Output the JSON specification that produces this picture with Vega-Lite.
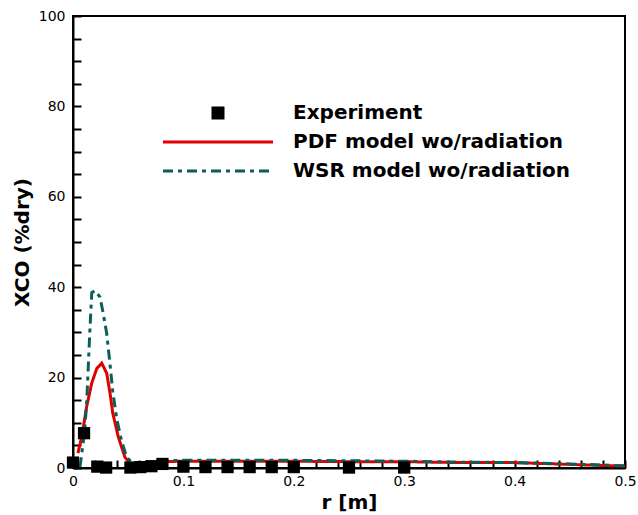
{
  "$schema": "https://vega.github.io/schema/vega-lite/v6.json",
  "width": 552,
  "height": 452,
  "autosize": {"type": "none"},
  "padding": {"left": 73, "top": 16, "right": 13, "bottom": 47},
  "background": "white",
  "datasets": {
    "curves": [
      {"r": 0.0045, "x": 3.3, "series": "PDF model wo/radiation"},
      {"r": 0.008, "x": 7.0, "series": "PDF model wo/radiation"},
      {"r": 0.0124, "x": 13.6, "series": "PDF model wo/radiation"},
      {"r": 0.017, "x": 18.8, "series": "PDF model wo/radiation"},
      {"r": 0.0215, "x": 22.0, "series": "PDF model wo/radiation"},
      {"r": 0.026, "x": 23.2, "series": "PDF model wo/radiation"},
      {"r": 0.0305, "x": 21.0, "series": "PDF model wo/radiation"},
      {"r": 0.0335, "x": 16.6, "series": "PDF model wo/radiation"},
      {"r": 0.036, "x": 12.2, "series": "PDF model wo/radiation"},
      {"r": 0.041, "x": 6.9, "series": "PDF model wo/radiation"},
      {"r": 0.047, "x": 2.4, "series": "PDF model wo/radiation"},
      {"r": 0.053, "x": 0.6, "series": "PDF model wo/radiation"},
      {"r": 0.06, "x": 0.5, "series": "PDF model wo/radiation"},
      {"r": 0.07, "x": 1.0, "series": "PDF model wo/radiation"},
      {"r": 0.08, "x": 1.4, "series": "PDF model wo/radiation"},
      {"r": 0.1, "x": 1.5, "series": "PDF model wo/radiation"},
      {"r": 0.15, "x": 1.5, "series": "PDF model wo/radiation"},
      {"r": 0.2, "x": 1.5, "series": "PDF model wo/radiation"},
      {"r": 0.25, "x": 1.4, "series": "PDF model wo/radiation"},
      {"r": 0.3, "x": 1.4, "series": "PDF model wo/radiation"},
      {"r": 0.35, "x": 1.2, "series": "PDF model wo/radiation"},
      {"r": 0.4, "x": 1.2, "series": "PDF model wo/radiation"},
      {"r": 0.45, "x": 0.8, "series": "PDF model wo/radiation"},
      {"r": 0.5, "x": 0.4, "series": "PDF model wo/radiation"},
      {"r": 0.0063, "x": 0.2, "series": "WSR model wo/radiation"},
      {"r": 0.0105, "x": 8.0, "series": "WSR model wo/radiation"},
      {"r": 0.0125, "x": 15.0, "series": "WSR model wo/radiation"},
      {"r": 0.0152, "x": 30.0, "series": "WSR model wo/radiation"},
      {"r": 0.017, "x": 38.8, "series": "WSR model wo/radiation"},
      {"r": 0.02, "x": 39.2, "series": "WSR model wo/radiation"},
      {"r": 0.0245, "x": 37.8, "series": "WSR model wo/radiation"},
      {"r": 0.0275, "x": 34.0, "series": "WSR model wo/radiation"},
      {"r": 0.0305, "x": 29.8, "series": "WSR model wo/radiation"},
      {"r": 0.0335, "x": 23.0, "series": "WSR model wo/radiation"},
      {"r": 0.036, "x": 17.0, "series": "WSR model wo/radiation"},
      {"r": 0.0395, "x": 11.0, "series": "WSR model wo/radiation"},
      {"r": 0.044, "x": 6.0, "series": "WSR model wo/radiation"},
      {"r": 0.0486, "x": 2.4, "series": "WSR model wo/radiation"},
      {"r": 0.054, "x": 1.0, "series": "WSR model wo/radiation"},
      {"r": 0.06, "x": 0.9, "series": "WSR model wo/radiation"},
      {"r": 0.07, "x": 1.2, "series": "WSR model wo/radiation"},
      {"r": 0.08, "x": 1.6, "series": "WSR model wo/radiation"},
      {"r": 0.1, "x": 1.7, "series": "WSR model wo/radiation"},
      {"r": 0.15, "x": 1.7, "series": "WSR model wo/radiation"},
      {"r": 0.2, "x": 1.7, "series": "WSR model wo/radiation"},
      {"r": 0.25, "x": 1.6, "series": "WSR model wo/radiation"},
      {"r": 0.3, "x": 1.5, "series": "WSR model wo/radiation"},
      {"r": 0.35, "x": 1.3, "series": "WSR model wo/radiation"},
      {"r": 0.4, "x": 1.2, "series": "WSR model wo/radiation"},
      {"r": 0.45, "x": 0.9, "series": "WSR model wo/radiation"},
      {"r": 0.5, "x": 0.5, "series": "WSR model wo/radiation"}
    ],
    "exp": [
      {"r": 0.0, "x": 1.2, "series": "Experiment"},
      {"r": 0.01, "x": 7.7, "series": "Experiment"},
      {"r": 0.022, "x": 0.3, "series": "Experiment"},
      {"r": 0.03, "x": 0.1, "series": "Experiment"},
      {"r": 0.052, "x": 0.1, "series": "Experiment"},
      {"r": 0.061, "x": 0.2, "series": "Experiment"},
      {"r": 0.071, "x": 0.4, "series": "Experiment"},
      {"r": 0.081, "x": 0.9, "series": "Experiment"},
      {"r": 0.1, "x": 0.3, "series": "Experiment"},
      {"r": 0.12, "x": 0.2, "series": "Experiment"},
      {"r": 0.14, "x": 0.2, "series": "Experiment"},
      {"r": 0.16, "x": 0.2, "series": "Experiment"},
      {"r": 0.18, "x": 0.2, "series": "Experiment"},
      {"r": 0.2, "x": 0.2, "series": "Experiment"},
      {"r": 0.25, "x": 0.1, "series": "Experiment"},
      {"r": 0.3, "x": 0.1, "series": "Experiment"}
    ]
  },
  "layer": [
    {
      "data": {"name": "curves"},
      "mark": {"type": "line", "strokeWidth": 3, "clip": true},
      "encoding": {
        "x": {
          "field": "r", "type": "quantitative",
          "scale": {"domain": [0, 0.5], "nice": false, "zero": false},
          "axis": {
            "orient": "bottom",
            "values": [0, 0.1, 0.2, 0.3, 0.4, 0.5],
            "format": ".1~f",
            "ticks": false,
            "labelPadding": 6,
            "title": "r [m]",
            "titlePadding": 4
          }
        },
        "y": {
          "field": "x", "type": "quantitative",
          "scale": {"domain": [0, 100], "nice": false},
          "axis": {
            "orient": "left",
            "values": [0, 20, 40, 60, 80, 100],
            "ticks": false,
            "labelPadding": 8,
            "title": "XCO (%dry)",
            "titlePadding": 6
          }
        },
        "color": {
          "field": "series", "type": "nominal",
          "scale": {
            "domain": ["Experiment", "PDF model wo/radiation", "WSR model wo/radiation"],
            "range": ["#000000", "#e00000", "#0b5e5a"]
          },
          "legend": {
            "orient": "none",
            "legendX": 90,
            "legendY": 87,
            "title": null,
            "padding": 0,
            "clipHeight": 20,
            "symbolSize": 144,
            "symbolStrokeWidth": 3,
            "labelOffset": 20,
            "rowPadding": 9,
            "labelFontSize": 20,
            "labelFontWeight": "bold",
            "labelFont": "DejaVu Sans",
            "labelColor": "black",
            "labelLimit": 400,
            "symbolType": "stroke",
            "encode": {
              "symbols": {
                "update": {
                  "x": {"value": 55},
                  "shape": {"signal": "datum.value === 'Experiment' ? 'square' : 'stroke'"},
                  "size": {"signal": "datum.value === 'Experiment' ? 169 : 12100"},
                  "fill": {"signal": "datum.value === 'Experiment' ? '#000000' : 'transparent'"},
                  "stroke": {"scale": "color", "field": "value"},
                  "strokeWidth": {"signal": "datum.value === 'Experiment' ? 0 : 3"},
                  "strokeDash": {"signal": "datum.value === 'WSR model wo/radiation' ? [10, 5, 4, 5] : [1, 0]"},
                  "opacity": {"value": 1}
                }
              },
              "labels": {
                "update": {
                  "x": {"value": 130}
                }
              }
            }
          }
        },
        "strokeDash": {
          "field": "series", "type": "nominal",
          "scale": {
            "domain": ["PDF model wo/radiation", "WSR model wo/radiation"],
            "range": [[1, 0], [10, 5, 4, 5]]
          },
          "legend": null
        }
      }
    },
    {
      "data": {"name": "exp"},
      "mark": {"type": "point", "shape": "square", "filled": true, "size": 150, "opacity": 1},
      "encoding": {
        "x": {
          "field": "r", "type": "quantitative",
          "axis": {
            "orient": "top",
            "offset": -452,
            "values": [0, 0.02, 0.04, 0.06, 0.08, 0.1, 0.12, 0.14, 0.16, 0.18, 0.2, 0.22, 0.24, 0.26, 0.28, 0.3, 0.32, 0.34, 0.36, 0.38, 0.4, 0.42, 0.44, 0.46, 0.48, 0.5],
            "ticks": true,
            "tickSize": 8,
            "tickColor": "black",
            "labels": false,
            "domain": false,
            "title": null
          }
        },
        "y": {
          "field": "x", "type": "quantitative",
          "axis": {
            "orient": "right",
            "offset": -552,
            "values": [0, 5, 10, 15, 20, 25, 30, 35, 40, 45, 50, 55, 60, 65, 70, 75, 80, 85, 90, 95, 100],
            "ticks": true,
            "tickSize": 8,
            "tickColor": "black",
            "labels": false,
            "domain": false,
            "title": null
          }
        },
        "color": {"field": "series", "type": "nominal"}
      }
    }
  ],
  "resolve": {"axis": {"x": "independent", "y": "independent"}},
  "config": {
    "view": {"stroke": "black", "strokeWidth": 2},
    "axis": {
      "grid": false,
      "domainColor": "black",
      "domainWidth": 2,
      "tickColor": "black",
      "tickWidth": 2,
      "labelFlush": false,
      "labelOverlap": false,
      "labelFont": "DejaVu Sans",
      "labelFontSize": 14,
      "labelColor": "black",
      "titleFont": "DejaVu Sans",
      "titleFontSize": 20,
      "titleFontWeight": "bold",
      "titleColor": "black"
    }
  }
}
